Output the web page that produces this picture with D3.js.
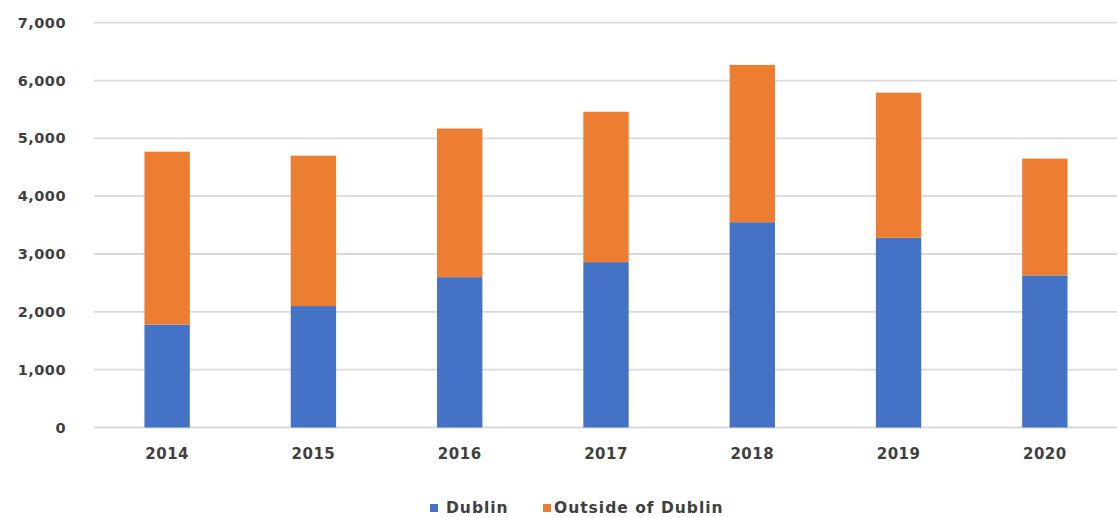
<!DOCTYPE html>
<html>
<head>
<meta charset="utf-8">
<script src="https://cdn.jsdelivr.net/npm/d3@7"></script>
<style>
  body { margin: 0; background: #fff; }
  svg text { font-family: "DejaVu Sans", "Open Sans", sans-serif; font-weight: 700; fill: #404040; }
</style>
</head>
<body>
<svg id="chart" width="1117" height="517"></svg>
<script>
// 数据
const years = ['2014', '2015', '2016', '2017', '2018', '2019', '2020'];
const dublin = [1780, 2100, 2600, 2860, 3550, 3280, 2630];
const outside = [2990, 2600, 2570, 2600, 2720, 2510, 2020];
const seriesNames = ['Dublin', 'Outside of Dublin'];
const colors = ['#4472C4', '#ED7D31'];
const yTicks = [0, 1000, 2000, 3000, 4000, 5000, 6000, 7000];

const svg = d3.select('#chart');
const W = 1117;

// 比例尺
const x = d3.scaleBand()
    .domain(years)
    .range([94, 1118])
    .paddingInner(0.69)
    .paddingOuter(0.345);

const y = d3.scaleLinear()
    .domain([0, 7000])
    .range([427.5, 22.7]);

// 网格线
svg.append('g')
    .selectAll('line')
    .data(yTicks)
    .join('line')
    .attr('x1', 94)
    .attr('x2', W)
    .attr('y1', d => y(d))
    .attr('y2', d => y(d))
    .attr('stroke', '#d9d9d9')
    .attr('stroke-width', 1.8);

// Y轴标签
const yAxis = d3.axisLeft(y)
    .tickValues(yTicks)
    .tickFormat(d3.format(','))
    .tickSize(0)
    .tickPadding(0);

const yg = svg.append('g')
    .attr('transform', 'translate(66,0)')
    .call(yAxis);
yg.select('.domain').remove();
yg.selectAll('text')
    .attr('font-size', 14.5)
    .attr('letter-spacing', 0.5)
    .attr('fill', '#404040');

// 堆叠
const rows = years.map((yr, i) => ({ year: yr, Dublin: dublin[i], 'Outside of Dublin': outside[i] }));
const stack = d3.stack().keys(seriesNames)(rows);

svg.append('g')
    .selectAll('g')
    .data(stack)
    .join('g')
    .attr('fill', (d, i) => colors[i])
    .selectAll('rect')
    .data(d => d)
    .join('rect')
    .attr('x', d => x(d.data.year))
    .attr('width', x.bandwidth())
    .attr('y', d => y(d[1]))
    .attr('height', d => y(d[0]) - y(d[1]));

// X轴标签
const xAxis = d3.axisBottom(x).tickSize(0).tickPadding(0);
const xg = svg.append('g')
    .attr('transform', 'translate(0,448)')
    .call(xAxis);
xg.select('.domain').remove();
xg.selectAll('text')
    .attr('font-size', 15)
    .attr('letter-spacing', 0.5)
    .attr('fill', '#404040');

// 图例
const legendItems = [
    { name: seriesNames[0], color: colors[0], sx: 430, tx: 446 },
    { name: seriesNames[1], color: colors[1], sx: 543, tx: 554 }
];
const lg = svg.append('g');
legendItems.forEach(it => {
    lg.append('rect')
        .attr('x', it.sx)
        .attr('y', 504)
        .attr('width', 8)
        .attr('height', 8)
        .attr('fill', it.color);
    lg.append('text')
        .attr('x', it.tx)
        .attr('y', 508)
        .attr('dy', '0.35em')
        .attr('font-size', 15.5)
        .attr('letter-spacing', 1)
        .text(it.name);
});
</script>
</body>
</html>
